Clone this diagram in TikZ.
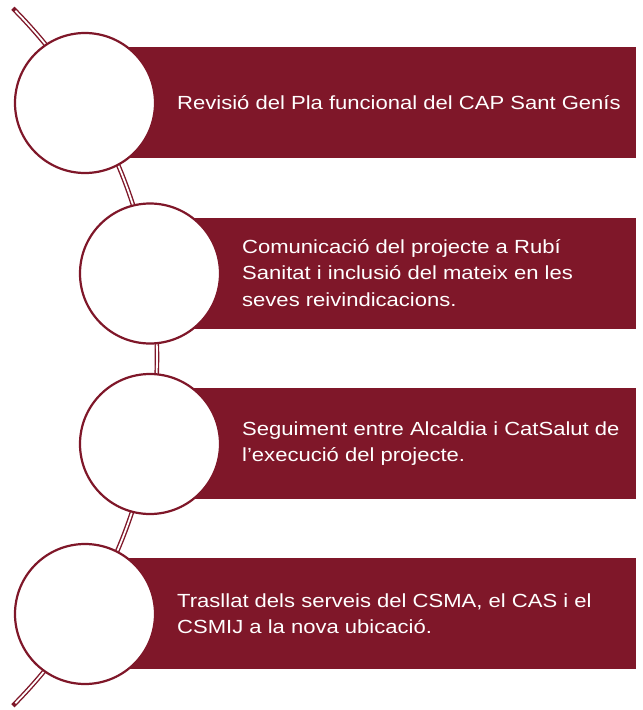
\documentclass[tikz,border=0pt]{standalone}
\usepackage{fontspec}
\setmainfont{Liberation Sans}[FakeStretch=1.16]
\definecolor{wine}{HTML}{7F1729}
\begin{document}
\begin{tikzpicture}[x=1pt,y=-1pt,
  bar/.style={fill=wine, draw=none, minimum width=551pt, minimum height=111pt, inner sep=0pt, anchor=west},
  disc/.style={circle, fill=white, draw=wine, line width=2.2pt, minimum size=140pt, inner sep=0pt},
  label/.style={anchor=west, text=white, align=left, inner sep=0pt,
    font=\fontsize{19}{26.5}\selectfont}]
\useasboundingbox (0,0) rectangle (643,710);
% spine
\draw[wine, line width=4.6pt] plot[domain=-44.9:44.9, samples=80, smooth] ({-337+494*cos(\x)},{357+494*sin(\x)});
\draw[white, line width=1.8pt] plot[domain=-44.5:44.5, samples=80, smooth] ({-337+494*cos(\x)},{357+494*sin(\x)});
% boxes
\node[bar] (b1) at (85,102.5) {};
\node[bar, minimum width=486pt] (b2) at (150,273) {};
\node[bar, minimum width=486pt] (b3) at (150,443.5) {};
\node[bar] (b4) at (85,613.5) {};
% circles
\node[disc] (c1) at (85,103) {};
\node[disc] (c2) at (150,273.5) {};
\node[disc] (c3) at (150,444) {};
\node[disc] (c4) at (85,614) {};
% texts
\node[label] (t1) at (177,102.5) {Revisió del Pla funcional del CAP Sant Genís};
\node[label] (t2) at (242,273) {Comunicació del projecte a Rubí\\Sanitat i inclusió del mateix en les\\seves reivindicacions.};
\node[label] (t3) at (242,443.5) {Seguiment entre Alcaldia i CatSalut de\\l’execució del projecte.};
\node[label] (t4) at (177,613.5) {Trasllat dels serveis del CSMA, el CAS i el\\CSMIJ a la nova ubicació.};
\end{tikzpicture}
\end{document}
